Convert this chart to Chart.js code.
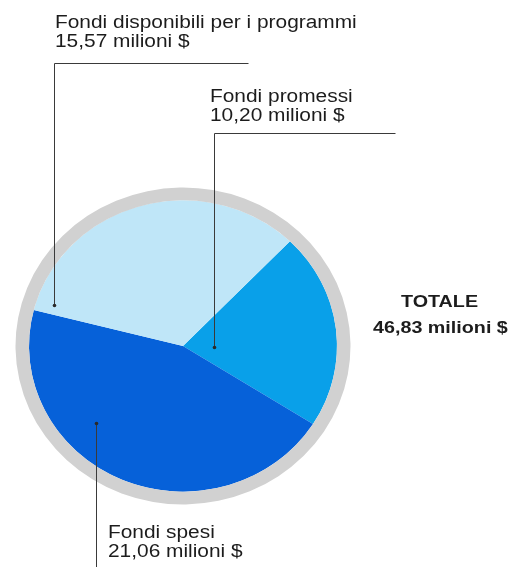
<!DOCTYPE html>
<html>
<head>
<meta charset="utf-8">
<script src="https://cdn.jsdelivr.net/npm/chart.js@4/dist/chart.umd.min.js"></script>
<style>
  html, body { margin: 0; padding: 0; background: #fff; }
  #pie { display: block; }
</style>
</head>
<body>
<canvas id="pie" width="524" height="567"></canvas>
<script>
const categories = ["Fondi promessi", "Fondi spesi", "Fondi disponibili per i programmi"];
const amounts = [10.20, 21.06, 15.57]; // milioni $
const totalLabel = "TOTALE";
const unit = "milioni $";

const sliceColors = ["#09a0e9", "#0661d9", "#bfe6f8"];
const RING_COLOR = "#d1d1d1";
const INK = "#1c1c1c";
const FONT = "'Liberation Sans', Arial, sans-serif";
const TEXT_STRETCH = 1.16;   // type is set wide
const SQUASH_Y = 0.946;      // pie is drawn slightly flattened

// callout text anchor + leader line (dot sits on the last point)
const callouts = [
  { x: 210, y: 102, path: [[395, 133], [214, 133], [214, 347]] },
  { x: 108, y: 538, path: [[96, 567], [96, 423]] },
  { x: 55, y: 28, path: [[248, 63], [54, 63], [54, 305]] },
];

const fmt = (v) => v.toFixed(2).replace(".", ",") + " " + unit;
const total = amounts.reduce((a, b) => a + b, 0);

function wideText(ctx, str, x, y) {
  ctx.save();
  ctx.translate(x, y);
  ctx.scale(TEXT_STRETCH, 1);
  ctx.fillText(str, 0, 0);
  ctx.restore();
}

const flatten = {
  id: "flatten",
  beforeDatasetsDraw(chart) {
    const { ctx, chartArea: a } = chart;
    const cy = (a.top + a.bottom) / 2;
    ctx.save();
    ctx.translate(0, cy);
    ctx.scale(1, SQUASH_Y);
    ctx.translate(0, -cy);
  },
  afterDatasetsDraw(chart) {
    chart.ctx.restore();
  },
};

const annotations = {
  id: "annotations",
  afterDraw(chart) {
    const ctx = chart.ctx;
    ctx.save();
    ctx.strokeStyle = "#3a3a3a";
    ctx.fillStyle = "#2a2a2a";
    ctx.lineWidth = 1;
    callouts.forEach((c) => {
      ctx.beginPath();
      c.path.forEach(([px, py], i) => (i ? ctx.lineTo(px + 0.5, py + 0.5) : ctx.moveTo(px + 0.5, py + 0.5)));
      ctx.stroke();
      const [dx, dy] = c.path[c.path.length - 1];
      ctx.beginPath();
      ctx.arc(dx + 0.5, dy + 0.5, 1.8, 0, Math.PI * 2);
      ctx.fill();
    });

    ctx.fillStyle = INK;
    ctx.textBaseline = "alphabetic";
    ctx.textAlign = "left";
    ctx.font = "18px " + FONT;
    callouts.forEach((c, i) => {
      wideText(ctx, categories[i], c.x, c.y);
      wideText(ctx, fmt(amounts[i]), c.x, c.y + 19);
    });

    ctx.font = "bold 17px " + FONT;
    wideText(ctx, totalLabel, 401, 307);
    wideText(ctx, fmt(total), 373, 333);
    ctx.restore();
  },
};

new Chart(document.getElementById("pie"), {
  type: "pie",
  data: {
    labels: categories,
    datasets: [
      {
        data: [total],
        backgroundColor: [RING_COLOR],
        borderWidth: 0,
        weight: 13.5,
      },
      {
        data: amounts,
        backgroundColor: sliceColors,
        borderWidth: 0,
        weight: 154,
      },
    ],
  },
  options: {
    responsive: false,
    animation: false,
    rotation: 44,
    layout: { padding: { left: 15.5, right: 173.5, top: 178.5, bottom: 53.5 } },
    plugins: {
      legend: { display: false },
      tooltip: { enabled: false },
    },
  },
  plugins: [flatten, annotations],
});
</script>
</body>
</html>
